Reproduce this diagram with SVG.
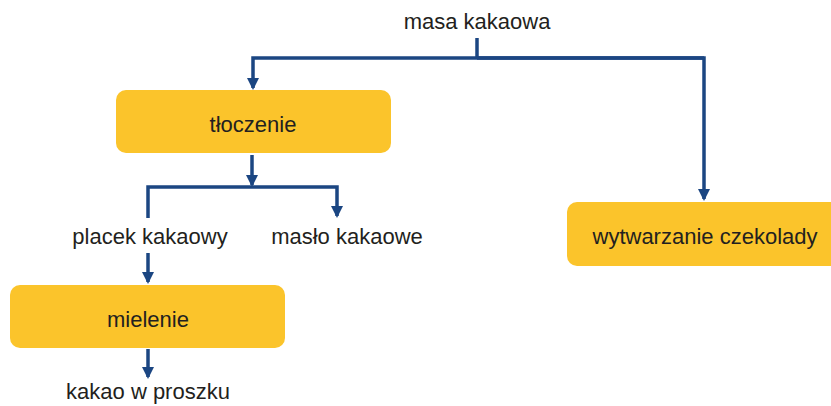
<svg xmlns="http://www.w3.org/2000/svg" width="831" height="406" viewBox="0 0 831 406">
<style>
.box{fill:#FBC42B}
.t{font-family:"Liberation Sans",Arial,sans-serif;font-size:22px;fill:#231F20;text-anchor:middle}
.c{fill:none;stroke:#1B4682;stroke-width:3.5}
</style>
<defs>
<marker id="arr" markerWidth="12" markerHeight="12" refX="10" refY="6" orient="auto" markerUnits="userSpaceOnUse">
<path d="M0,0 L12,6 L0,12 Z" fill="#1B4682"/>
</marker>
</defs>
<g id="connectors">
<path class="c" d="M477,38 V58"/>
<path class="c" d="M704,58 H253 V88" marker-end="url(#arr)"/>
<path class="c" d="M477,58 H704 V199" marker-end="url(#arr)"/>
<path class="c" d="M252,155 V185" marker-end="url(#arr)"/>
<path class="c" d="M148,218 V187 H337 V216" marker-end="url(#arr)"/>
<path class="c" d="M148,253 V282" marker-end="url(#arr)"/>
<path class="c" d="M148,349 V377" marker-end="url(#arr)"/>
</g>
<g id="masa"><text class="t" x="477" y="29">masa kakaowa</text></g>
<g id="tloczenie"><rect class="box" x="116" y="90" width="275" height="63" rx="10"/><text class="t" x="253" y="132">tłoczenie</text></g>
<g id="placek"><text class="t" x="150" y="244">placek kakaowy</text></g>
<g id="maslo"><text class="t" x="347" y="244">masło kakaowe</text></g>
<g id="mielenie"><rect class="box" x="10" y="285" width="275" height="63" rx="10"/><text class="t" x="148" y="327">mielenie</text></g>
<g id="kakao"><text class="t" x="148" y="399">kakao w proszku</text></g>
<g id="wytwarzanie"><rect class="box" x="567" y="202" width="280" height="64" rx="10"/><text class="t" x="705" y="244">wytwarzanie czekolady</text></g>
</svg>
